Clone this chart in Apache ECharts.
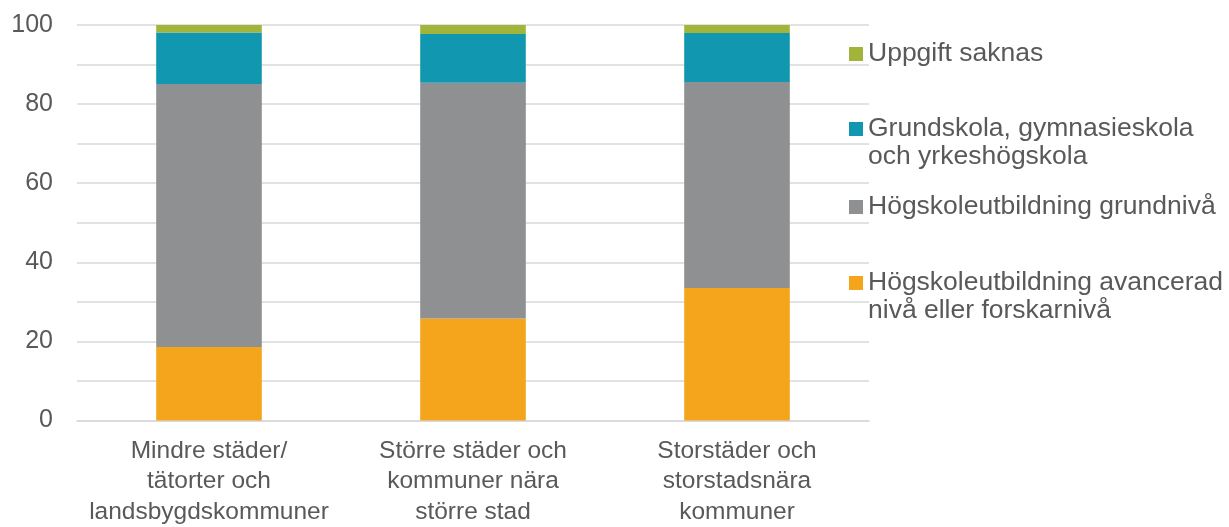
<!DOCTYPE html>
<html><head><meta charset="utf-8">
<script src="https://cdn.jsdelivr.net/npm/echarts@6/dist/echarts.min.js"></script>
<style>html,body{margin:0;padding:0;background:#fff}#c{width:1229px;height:527px}</style>
</head><body><div id="c"></div>
<script>
const categories = ['Mindre städer/\ntätorter och\nlandsbygdskommuner', 'Större städer och\nkommuner nära\nstörre stad', 'Storstäder och\nstorstadsnära\nkommuner'];
const avancerad = [18.6, 25.8, 33.5];
const grundniva = [66.5, 59.6, 52.1];
const grundskola = [13.0, 12.3, 12.4];
const saknas = [1.9, 2.3, 2.0];
const seriesNames = ['Högskoleutbildning avancerad nivå eller forskarnivå', 'Högskoleutbildning grundnivå', 'Grundskola, gymnasieskola och yrkeshögskola', 'Uppgift saknas'];
const legendText = {
  'Högskoleutbildning avancerad nivå eller forskarnivå': '\u00a0\nHögskoleutbildning avancerad\nnivå eller forskarnivå',
  'Högskoleutbildning grundnivå': 'Högskoleutbildning grundnivå',
  'Grundskola, gymnasieskola och yrkeshögskola': '\u00a0\nGrundskola, gymnasieskola\noch yrkeshögskola',
  'Uppgift saknas': 'Uppgift saknas'
};
const yTicks = [0, 20, 40, 60, 80, 100];
const colors = ['#F4A51C', '#8F9092', '#1198B0', '#A3B43A'];
const FONT = 'Liberation Sans, Arial, sans-serif';
const TXT = '#595959';

function mkLegend(name, top) {
  return {
    data: [name], left: 849, top: top, padding: 0, orient: 'vertical',
    itemWidth: 14, itemHeight: 14, itemGap: 0, icon: 'rect',
    formatter: n => legendText[n],
    textStyle: { fontFamily: FONT, fontSize: 26.5, color: TXT, lineHeight: 28 }
  };
}

const chart = echarts.init(document.getElementById('c'), null, { renderer: 'canvas' });
chart.setOption({
  animation: false,
  color: colors,
  grid: { left: 77, right: 360, top: 25, bottom: 106, containLabel: false },
  legend: [
    mkLegend('Uppgift saknas', 40),
    mkLegend('Grundskola, gymnasieskola och yrkeshögskola', 87),
    mkLegend('Högskoleutbildning grundnivå', 193),
    mkLegend('Högskoleutbildning avancerad nivå eller forskarnivå', 241)
  ],
  xAxis: {
    type: 'category', data: categories,
    axisLine: { show: true, lineStyle: { color: '#D9D9D9', width: 1.5 } },
    axisTick: { show: false },
    axisLabel: { fontFamily: FONT, fontSize: 24.5, color: TXT, lineHeight: 30.5, margin: 15, interval: 0 }
  },
  yAxis: {
    type: 'value', min: 0, max: 100, interval: 10,
    axisLine: { show: false }, axisTick: { show: false },
    splitLine: { lineStyle: { color: '#D9D9D9', width: 1.5 } },
    axisLabel: { fontFamily: FONT, fontSize: 25, color: TXT, margin: 24,
      formatter: v => yTicks.includes(v) ? String(v) : '' }
  },
  series: [
    { name: seriesNames[0], type: 'bar', stack: 's', barWidth: '40%', data: avancerad },
    { name: seriesNames[1], type: 'bar', stack: 's', data: grundniva },
    { name: seriesNames[2], type: 'bar', stack: 's', data: grundskola },
    { name: seriesNames[3], type: 'bar', stack: 's', data: saknas }
  ]
});
</script></body></html>
